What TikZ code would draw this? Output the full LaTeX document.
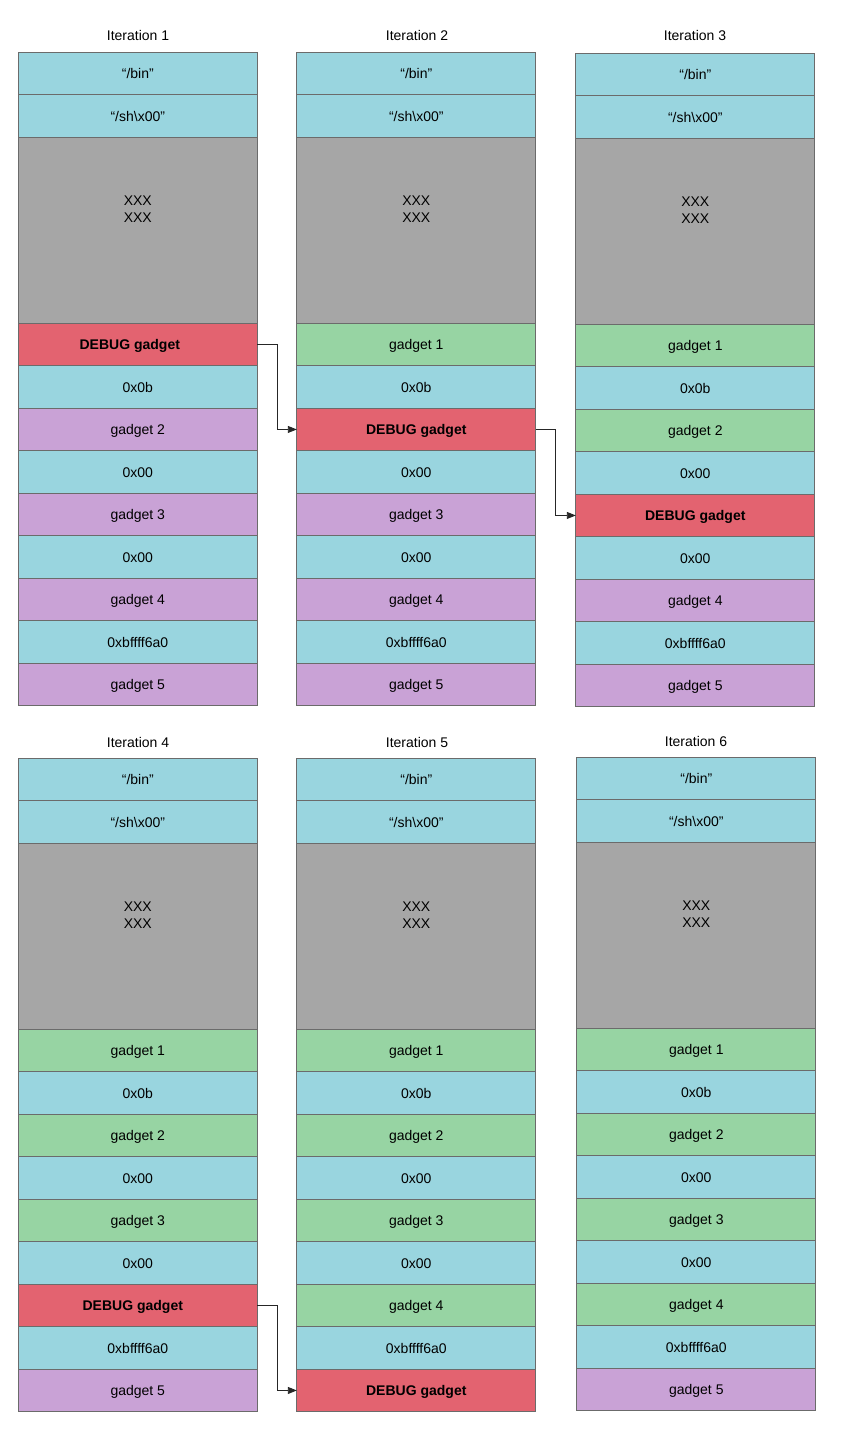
\documentclass[tikz,border=0pt]{standalone}
\usepackage{fontspec}
\setmainfont{Liberation Sans}
\usetikzlibrary{arrows.meta}
\definecolor{ccy}{HTML}{99D5DF}
\definecolor{cgy}{HTML}{A6A6A6}
\definecolor{crd}{HTML}{E36370}
\definecolor{cgr}{HTML}{97D4A3}
\definecolor{cpu}{HTML}{C9A2D6}
\definecolor{cbd}{HTML}{6B6B6B}
\newcommand\tbin{“/bin”}
\newcommand\tsh{“/sh\textbackslash x00”}
\newcommand\txxx{\parbox[c][186pt][t]{100pt}{\centering\vspace*{59pt}XXX\\XXX}}
\newcommand\stackcolumn[4]{%
  \node[inner sep=0pt, minimum size=0pt] (#1r0) at (#2,#3) {};
  \foreach \s/\tx [count=\i, remember=\i as \j (initially 0)] in {#4} {
    \node[\s] (#1r\i) at (#1r\j.south west) {\tx};
  }}
\begin{document}
\begin{tikzpicture}[x=1pt,y=-1pt,
  font=\fontsize{14}{17}\selectfont,
  cell/.style={draw=cbd, line width=0.9pt, minimum width=239pt, minimum height=42.5pt,
    inner sep=0pt, outer sep=0pt, anchor=north west},
  row/.style={cell, text height=10.5pt, text depth=0pt},
  cy/.style={row, fill=ccy},
  gy/.style={cell, fill=cgy, minimum height=186pt},
  rd/.style={row, fill=crd, font=\fontsize{14}{17}\selectfont\bfseries},
  gr/.style={row, fill=cgr},
  pu/.style={row, fill=cpu},
  title/.style={inner sep=0pt},
  link/.style={draw=black!85, line width=0.9pt, -{Triangle[length=9pt,width=7pt]}}]
\useasboundingbox (0,0) rectangle (843,1450);

\node[title] (t1) at (138,35) {Iteration 1};
\node[title] (t2) at (417,35) {Iteration 2};
\node[title] (t3) at (695,35) {Iteration 3};
\node[title] (t4) at (138,742) {Iteration 4};
\node[title] (t5) at (417,742) {Iteration 5};
\node[title] (t6) at (696,741) {Iteration 6};

\stackcolumn{c1}{18.5}{52}{cy/\tbin, cy/\tsh, gy/\txxx, rd/DEBUG gadget\rule{16pt}{0pt}, cy/0x0b, pu/gadget 2, cy/0x00, pu/gadget 3, cy/0x00, pu/gadget 4, cy/0xbffff6a0, pu/gadget 5}
\stackcolumn{c2}{297}{52}{cy/\tbin, cy/\tsh, gy/\txxx, gr/gadget 1, cy/0x0b, rd/DEBUG gadget, cy/0x00, pu/gadget 3, cy/0x00, pu/gadget 4, cy/0xbffff6a0, pu/gadget 5}
\stackcolumn{c3}{576}{53}{cy/\tbin, cy/\tsh, gy/\txxx, gr/gadget 1, cy/0x0b, gr/gadget 2, cy/0x00, rd/DEBUG gadget, cy/0x00, pu/gadget 4, cy/0xbffff6a0, pu/gadget 5}
\stackcolumn{c4}{18.5}{758}{cy/\tbin, cy/\tsh, gy/\txxx, gr/gadget 1, cy/0x0b, gr/gadget 2, cy/0x00, gr/gadget 3, cy/0x00, rd/DEBUG gadget\rule{10pt}{0pt}, cy/0xbffff6a0, pu/gadget 5}
\stackcolumn{c5}{297}{758}{cy/\tbin, cy/\tsh, gy/\txxx, gr/gadget 1, cy/0x0b, gr/gadget 2, cy/0x00, gr/gadget 3, cy/0x00, gr/gadget 4, cy/0xbffff6a0, rd/DEBUG gadget}
\stackcolumn{c6}{577}{757}{cy/\tbin, cy/\tsh, gy/\txxx, gr/gadget 1, cy/0x0b, gr/gadget 2, cy/0x00, gr/gadget 3, cy/0x00, gr/gadget 4, cy/0xbffff6a0, pu/gadget 5}

\draw[link] (c1r4.east) -- ++(20,0) |- (c2r6.west);
\draw[link] (c2r6.east) -- ++(20,0) |- (c3r8.west);
\draw[link] (c4r10.east) -- ++(20,0) |- (c5r12.west);
\end{tikzpicture}
\end{document}
